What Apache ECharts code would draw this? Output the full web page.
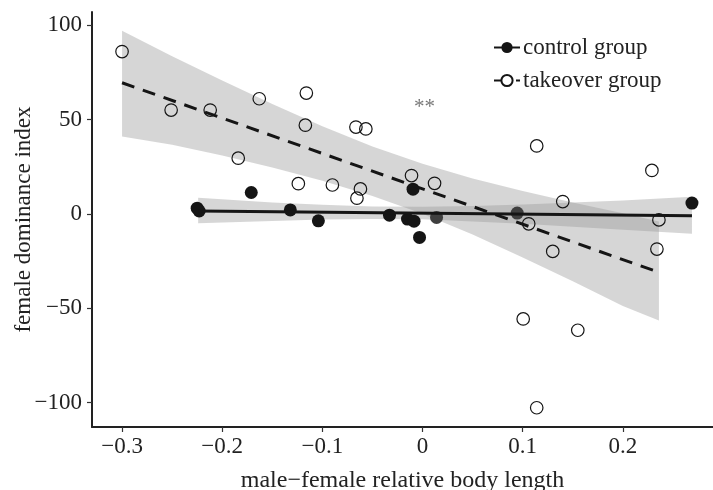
<!DOCTYPE html>
<html>
<head>
<meta charset="utf-8">
<script src="https://cdn.jsdelivr.net/npm/echarts@6/dist/echarts.min.js"></script>
<style>
html,body{margin:0;padding:0;background:#fff;}
#chart{width:713px;height:490px;}
</style>
</head>
<body>
<div id="chart"></div>
<script>
// ---- data ----
const xTicks = [-0.3, -0.2, -0.1, 0, 0.1, 0.2];
const yTicks = [-100, -50, 0, 50, 100];

// control group points (filled)
const controlX = [-0.225, -0.223, -0.171, -0.132, -0.104, -0.033, -0.015, -0.0085, -0.0095, -0.003, 0.014, 0.0945, 0.269];
const controlY = [3, 1.5, 11.3, 2.1, -3.7, -0.7, -2.8, -3.9, 13.1, -12.5, -1.9, 0.4, 5.7];
// control points that appear shaded (under the translucent band)
const controlShaded = [10, 11];

// takeover group points (open)
const takeoverX = [-0.30, -0.251, -0.212, -0.163, -0.116, -0.117, -0.0665, -0.0566, -0.184, -0.124, -0.090, -0.062, -0.0655, -0.011, 0.012, 0.114, 0.229, 0.140, 0.106, 0.236, 0.130, 0.234, 0.1005, 0.155, 0.114];
const takeoverY = [86, 55, 55, 61, 64, 47, 46, 45, 29.5, 16, 15.3, 13.2, 8.3, 20.3, 16.2, 36, 23, 6.5, -5.3, -3.2, -19.9, -18.7, -55.7, -61.7, -102.8];

// fitted lines (end points)
const controlLineX = [-0.224, 0.269];
const controlLineY = [1.5, -1.0];
const takeoverLineX = [-0.30, 0.236];
const takeoverLineY = [69.5, -31];

// confidence bands
const controlBandX  = [-0.224, -0.15, -0.10, -0.05, 0, 0.05, 0.10, 0.15, 0.20, 0.269];
const controlBandLo = [-5.0, -3.8, -3.0, -2.7, -2.9, -4.0, -5.2, -6.8, -8.4, -10.5];
const controlBandHi = [8.5, 6.0, 4.8, 3.9, 3.7, 4.2, 5.0, 6.0, 7.1, 9.0];

const takeoverBandX  = [-0.30, -0.25, -0.20, -0.15, -0.10, -0.05, 0, 0.05, 0.10, 0.15, 0.20, 0.236];
const takeoverBandLo = [41, 36.6, 30.9, 24.6, 17.6, 9.5, 0, -11, -23.1, -35.8, -48.8, -56.5];
const takeoverBandHi = [97, 83.6, 70.7, 58.2, 46.4, 35.7, 26.5, 18.8, 12.1, 6.0, 0.3, -4];

const annotX = [0.002];
const annotY = [56.5];
const annotText = ['**'];

// ---- chart ----
const FONT = 'Liberation Serif';
const TXT = '#222';
const BAND = 'rgba(153,153,153,0.4)';

function zip(xs, ys) { return xs.map((x, i) => [x, ys[i]]); }

function bandSeries(name, xs, lo, hi) {
  return {
    type: 'custom', name: name, silent: true, z: 1,
    data: xs.map((x, i) => [x, lo[i], hi[i]]),
    encode: { x: 0, y: [1, 2] },
    renderItem: function (params, api) {
      if (params.dataIndex !== 0) return null;
      const pts = [];
      for (let i = 0; i < xs.length; i++) pts.push(api.coord([xs[i], hi[i]]));
      for (let i = xs.length - 1; i >= 0; i--) pts.push(api.coord([xs[i], lo[i]]));
      return { type: 'polygon', shape: { points: pts }, style: { fill: BAND } };
    }
  };
}

function fmt(v) {
  if (v === 0) return '0';
  return (v < 0 ? '\u2212' : '') + String(Math.abs(v));
}

const chart = echarts.init(document.getElementById('chart'), null, { renderer: 'canvas' });

chart.setOption({
  backgroundColor: '#fff',
  animation: false,
  grid: { left: 92, right: 0, top: 12, bottom: 63, containLabel: false, outerBoundsMode: 'none' },
  legend: {
    data: ['control group', 'takeover group'],
    orient: 'vertical',
    left: 488, top: 31,
    itemWidth: 26, itemHeight: 14, itemGap: 10,
    textStyle: { fontFamily: FONT, fontSize: 23, color: TXT, padding: [0, 0, 0, -2] }
  },
  xAxis: {
    type: 'value', min: -0.33, max: 0.29,
    name: 'male\u2212female relative body length',
    nameLocation: 'middle', nameGap: 42, nameMoveOverlap: false,
    nameTextStyle: { fontFamily: FONT, fontSize: 24, color: TXT },
    axisLine: { show: true, onZero: false, lineStyle: { color: '#222', width: 2 } },
    axisTick: { show: true, length: 5, lineStyle: { color: '#333', width: 1.2 }, customValues: xTicks },
    axisLabel: { fontFamily: FONT, fontSize: 23, color: TXT, margin: 8, customValues: xTicks, formatter: fmt },
    splitLine: { show: false }
  },
  yAxis: {
    type: 'value', min: -113, max: 107,
    name: 'female dominance index',
    nameLocation: 'middle', nameGap: 57, nameMoveOverlap: false,
    nameTextStyle: { fontFamily: FONT, fontSize: 23, color: TXT },
    axisLine: { show: true, onZero: false, lineStyle: { color: '#222', width: 2 } },
    axisTick: { show: true, length: 5, lineStyle: { color: '#333', width: 1.2 }, customValues: yTicks },
    axisLabel: { fontFamily: FONT, fontSize: 23, color: TXT, margin: 10, customValues: yTicks, formatter: fmt },
    splitLine: { show: false }
  },
  series: [
    bandSeries('controlBand', controlBandX, controlBandLo, controlBandHi),
    bandSeries('takeoverBand', takeoverBandX, takeoverBandLo, takeoverBandHi),
    {
      type: 'scatter', name: 'controlPoints', z: 2,
      data: zip(controlX, controlY),
      symbol: 'circle', symbolSize: 13,
      itemStyle: {
        color: function (p) { return controlShaded.indexOf(p.dataIndex) >= 0 ? '#3f3f3f' : '#151515'; },
        opacity: 1
      }
    },
    {
      type: 'scatter', name: 'takeoverPoints', z: 3,
      data: zip(takeoverX, takeoverY),
      symbol: 'circle', symbolSize: 12.5,
      itemStyle: { color: 'rgba(0,0,0,0)', borderColor: '#151515', borderWidth: 1.2, opacity: 1 }
    },
    {
      type: 'line', name: 'control group', z: 4,
      data: zip(controlLineX, controlLineY),
      showSymbol: false, symbol: 'circle', symbolSize: 13,
      itemStyle: { color: '#151515' },
      lineStyle: { color: '#151515', width: 3, type: 'solid' }
    },
    {
      type: 'line', name: 'takeover group', z: 4,
      data: zip(takeoverLineX, takeoverLineY),
      showSymbol: false, symbol: 'circle', symbolSize: 13,
      itemStyle: { color: '#fff', borderColor: '#151515', borderWidth: 1.2 },
      lineStyle: { color: '#151515', width: 3, type: [13, 9] }
    },
    {
      type: 'scatter', name: 'annotation', z: 5,
      data: zip(annotX, annotY),
      symbolSize: 0, silent: true,
      label: {
        show: true, position: 'inside',
        formatter: function (p) { return annotText[p.dataIndex]; },
        fontFamily: FONT, fontSize: 21, color: '#555'
      }
    }
  ]
});
</script>
</body>
</html>
